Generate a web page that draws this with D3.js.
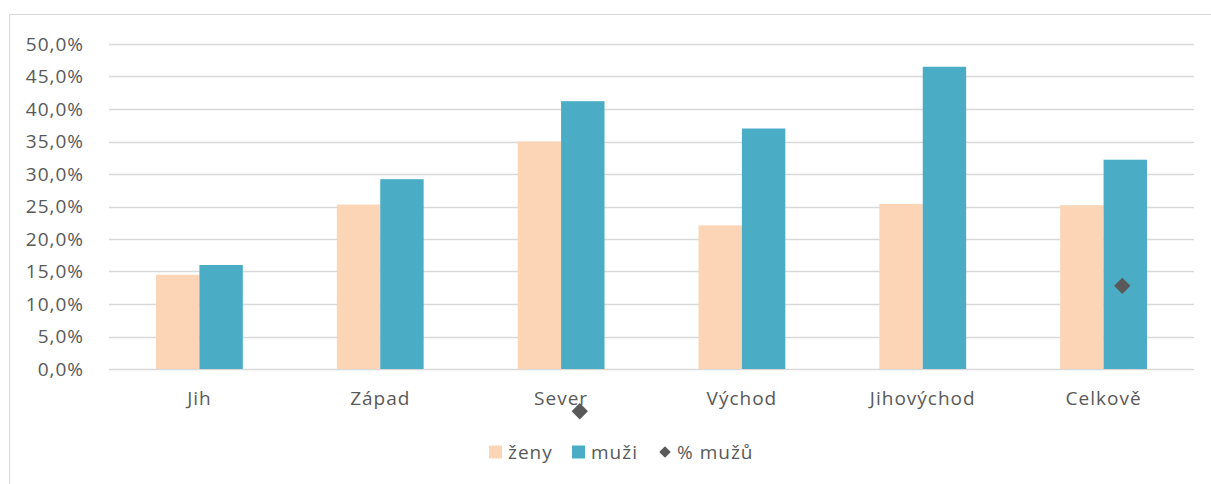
<!DOCTYPE html>
<html>
<head>
<meta charset="utf-8">
<script src="https://cdn.jsdelivr.net/npm/d3@7"></script>
<style>
  body { margin: 0; background: #fff; }
  text { font-family: "Open Sans", Lato, sans-serif; fill: #595959; letter-spacing: 1px; }
</style>
</head>
<body>
<svg id="chart"></svg>
<script>
// data
const categories = ['Jih', 'Západ', 'Sever', 'Východ', 'Jihovýchod', 'Celkově']
const zeny = [14.5, 25.3, 35.0, 22.1, 25.4, 25.2]
const muzi = [16.0, 29.2, 41.2, 37.0, 46.5, 32.2]
const podilMuzu = [null, null, -6.5, null, null, 12.8]
const yTicks = [0, 5, 10, 15, 20, 25, 30, 35, 40, 45, 50]
const seriesNames = ['ženy', 'muži', '% mužů']

const width = 1211
const height = 484
const colors = { zeny: '#FBD5B5', muzi: '#4BACC6', marker: '#595959', grid: '#D9D9D9' }
const margin = { top: 44, right: 17, bottom: 115, left: 109 }
const fontSize = '19px'

const svg = d3.select('#chart').attr('width', width).attr('height', height)

// chart border (top + left visible)
svg.append('path')
  .attr('d', `M9.5,${height} V14.5 H${width}`)
  .attr('fill', 'none')
  .attr('stroke', '#D9D9D9')
  .attr('stroke-width', 1)

const g = svg.append('g').attr('transform', `translate(${margin.left},${margin.top})`)
const plotW = width - margin.left - margin.right
const plotH = height - margin.top - margin.bottom

const x = d3.scaleBand().domain(categories).range([0, plotW]).paddingInner(0.52).paddingOuter(0.26)
const xSub = d3.scaleBand().domain(['zeny', 'muzi']).range([0, x.bandwidth()])
const y = d3.scaleLinear().domain([0, 50]).range([plotH, 0])

// gridlines
g.append('g')
  .selectAll('line')
  .data(yTicks)
  .join('line')
  .attr('x1', 0)
  .attr('x2', plotW)
  .attr('y1', d => Math.round(y(d)) + 0.5)
  .attr('y2', d => Math.round(y(d)) + 0.5)
  .attr('stroke', colors.grid)
  .attr('stroke-width', 1.5)

// y axis labels
const yAxis = g.append('g')
  .attr('transform', 'translate(-22,0)')
  .call(d3.axisLeft(y).tickValues(yTicks).tickSize(0)
    .tickFormat(d => d3.format('.1f')(d).replace('.', ',') + '%'))
yAxis.select('.domain').remove()
yAxis.selectAll('text').style('font-size', fontSize).attr('fill', '#595959')

// bars
const groups = g.append('g')
  .selectAll('g')
  .data(categories)
  .join('g')
  .attr('transform', d => `translate(${x(d)},0)`)

groups.append('rect')
  .attr('x', xSub('zeny'))
  .attr('width', xSub.bandwidth())
  .attr('y', (d, i) => y(zeny[i]))
  .attr('height', (d, i) => y(0) - y(zeny[i]))
  .attr('fill', colors.zeny)

groups.append('rect')
  .attr('x', xSub('muzi'))
  .attr('width', xSub.bandwidth())
  .attr('y', (d, i) => y(muzi[i]))
  .attr('height', (d, i) => y(0) - y(muzi[i]))
  .attr('fill', colors.muzi)

// x axis labels
const xAxis = g.append('g')
  .attr('transform', `translate(0,${plotH + 19})`)
  .call(d3.axisBottom(x).tickSize(0))
xAxis.select('.domain').remove()
xAxis.selectAll('text').style('font-size', fontSize).attr('fill', '#595959')

// % mužů markers
const diamond = d3.symbol().type(d3.symbolDiamond2).size(170)
g.append('g')
  .selectAll('path')
  .data(categories.map((c, i) => ({ c, v: podilMuzu[i] })).filter(d => d.v !== null))
  .join('path')
  .attr('d', diamond)
  .attr('transform', d => `translate(${x(d.c) + xSub('muzi') + xSub.bandwidth() / 2 - 3},${y(d.v)})`)
  .attr('fill', colors.marker)

// legend
const legend = svg.append('g').attr('transform', 'translate(489,452)')
const legendItems = [
  { name: seriesNames[0], color: colors.zeny, type: 'rect', x: 0 },
  { name: seriesNames[1], color: colors.muzi, type: 'rect', x: 83 },
  { name: seriesNames[2], color: colors.marker, type: 'diamond', x: 169 }
]
const li = legend.selectAll('g').data(legendItems).join('g')
  .attr('transform', d => `translate(${d.x},0)`)
li.filter(d => d.type === 'rect').append('rect')
  .attr('x', 0).attr('y', -6.5).attr('width', 13).attr('height', 13)
  .attr('fill', d => d.color)
li.filter(d => d.type === 'diamond').append('path')
  .attr('d', d3.symbol().type(d3.symbolDiamond2).size(85))
  .attr('transform', 'translate(7,0)')
  .attr('fill', d => d.color)
li.append('text')
  .attr('x', 19)
  .attr('dy', '0.35em')
  .style('font-size', fontSize)
  .text(d => d.name)
</script>
</body>
</html>
